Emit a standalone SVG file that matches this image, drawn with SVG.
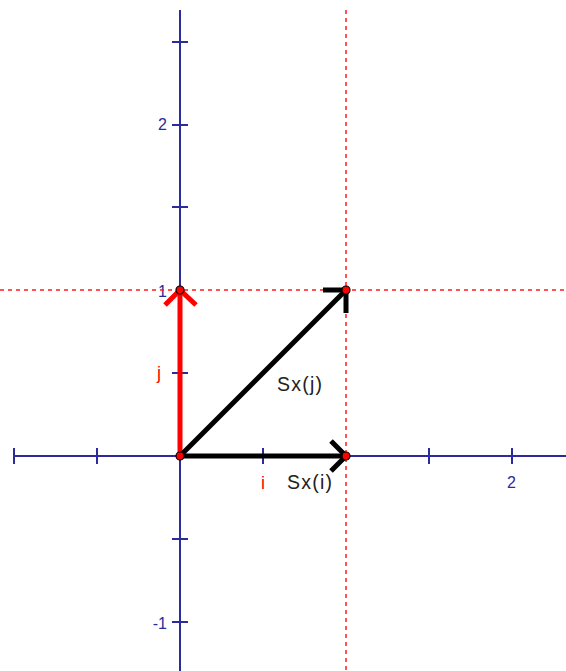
<svg xmlns="http://www.w3.org/2000/svg" width="566" height="671" viewBox="0 0 566 671">
<style>
.ax{stroke:#2b2b9e;stroke-width:2;fill:none}
.tk{stroke:#2b2b9e;stroke-width:2}
.dash{stroke:#ff1a1a;stroke-width:1.5;stroke-dasharray:4 4;fill:none}
.num{font-family:"Liberation Sans",Arial,sans-serif;font-size:16px;fill:#2b2b9e}
.lbl{font-family:"Liberation Sans",Arial,sans-serif;font-size:18px}
.sx{font-family:"Liberation Sans",Arial,sans-serif;font-size:19.5px;fill:#222}
.vec{stroke-width:5;fill:none;stroke-linecap:square}
.pt{fill:#ff0000;stroke:#000;stroke-width:1.2}
</style>
<rect width="566" height="671" fill="#fff"/>
<g id="axes">
<line class="ax" x1="14" y1="456" x2="566" y2="456"/>
<line class="ax" x1="180" y1="10" x2="180" y2="671"/>
<g class="tk">
<line x1="14" y1="448" x2="14" y2="464"/>
<line x1="97" y1="448" x2="97" y2="464"/>
<line x1="263" y1="448" x2="263" y2="464"/>
<line x1="429" y1="448" x2="429" y2="464"/>
<line x1="512" y1="448" x2="512" y2="464"/>
<line x1="172" y1="42" x2="188" y2="42"/>
<line x1="172" y1="125" x2="188" y2="125"/>
<line x1="172" y1="207" x2="188" y2="207"/>
<line x1="172" y1="373" x2="188" y2="373"/>
<line x1="172" y1="539" x2="188" y2="539"/>
<line x1="172" y1="622" x2="188" y2="622"/>
</g>
<text class="num" x="167" y="130" text-anchor="end">2</text>
<text class="num" x="167" y="297" text-anchor="end">1</text>
<text class="num" x="167" y="629" text-anchor="end">-1</text>
<text class="num" x="511.5" y="488" text-anchor="middle">2</text>
</g>
<g id="guides">
<line class="dash" x1="0" y1="290" x2="566" y2="290"/>
<line class="dash" x1="346" y1="10" x2="346" y2="671"/>
</g>
<g id="connectors">
<g id="vec-j" class="vec" stroke="#ff0000">
<line x1="180" y1="456" x2="180" y2="292"/>
<polyline points="165,305 180,290 196,305" stroke-linecap="butt" stroke-linejoin="miter"/>
</g>
<g id="vec-sxi" class="vec" stroke="#000">
<line x1="180" y1="456" x2="344" y2="456"/>
<polyline points="331,441 346,456 331,471" stroke-linecap="butt"/>
</g>
<g id="vec-sxj" class="vec" stroke="#000">
<line x1="180" y1="456" x2="344" y2="292"/>
<polyline points="323,290 346,290 346,313" stroke-linecap="butt"/>
</g>
</g>
<g id="points">
<circle class="pt" cx="180" cy="456" r="4"/>
<circle class="pt" cx="180" cy="290" r="4"/>
<circle class="pt" cx="346" cy="290" r="4"/>
<circle class="pt" cx="346" cy="456" r="4"/>
</g>
<g id="labels">
<text class="lbl" x="157" y="379" fill="#ff0000">j</text>
<text class="lbl" x="261" y="489" fill="#ff0000">i</text>
<text class="sx" x="277" y="391" textLength="45" lengthAdjust="spacing">Sx(j)</text>
<text class="sx" x="287" y="489" textLength="45" lengthAdjust="spacing">Sx(i)</text>
</g>
</svg>
